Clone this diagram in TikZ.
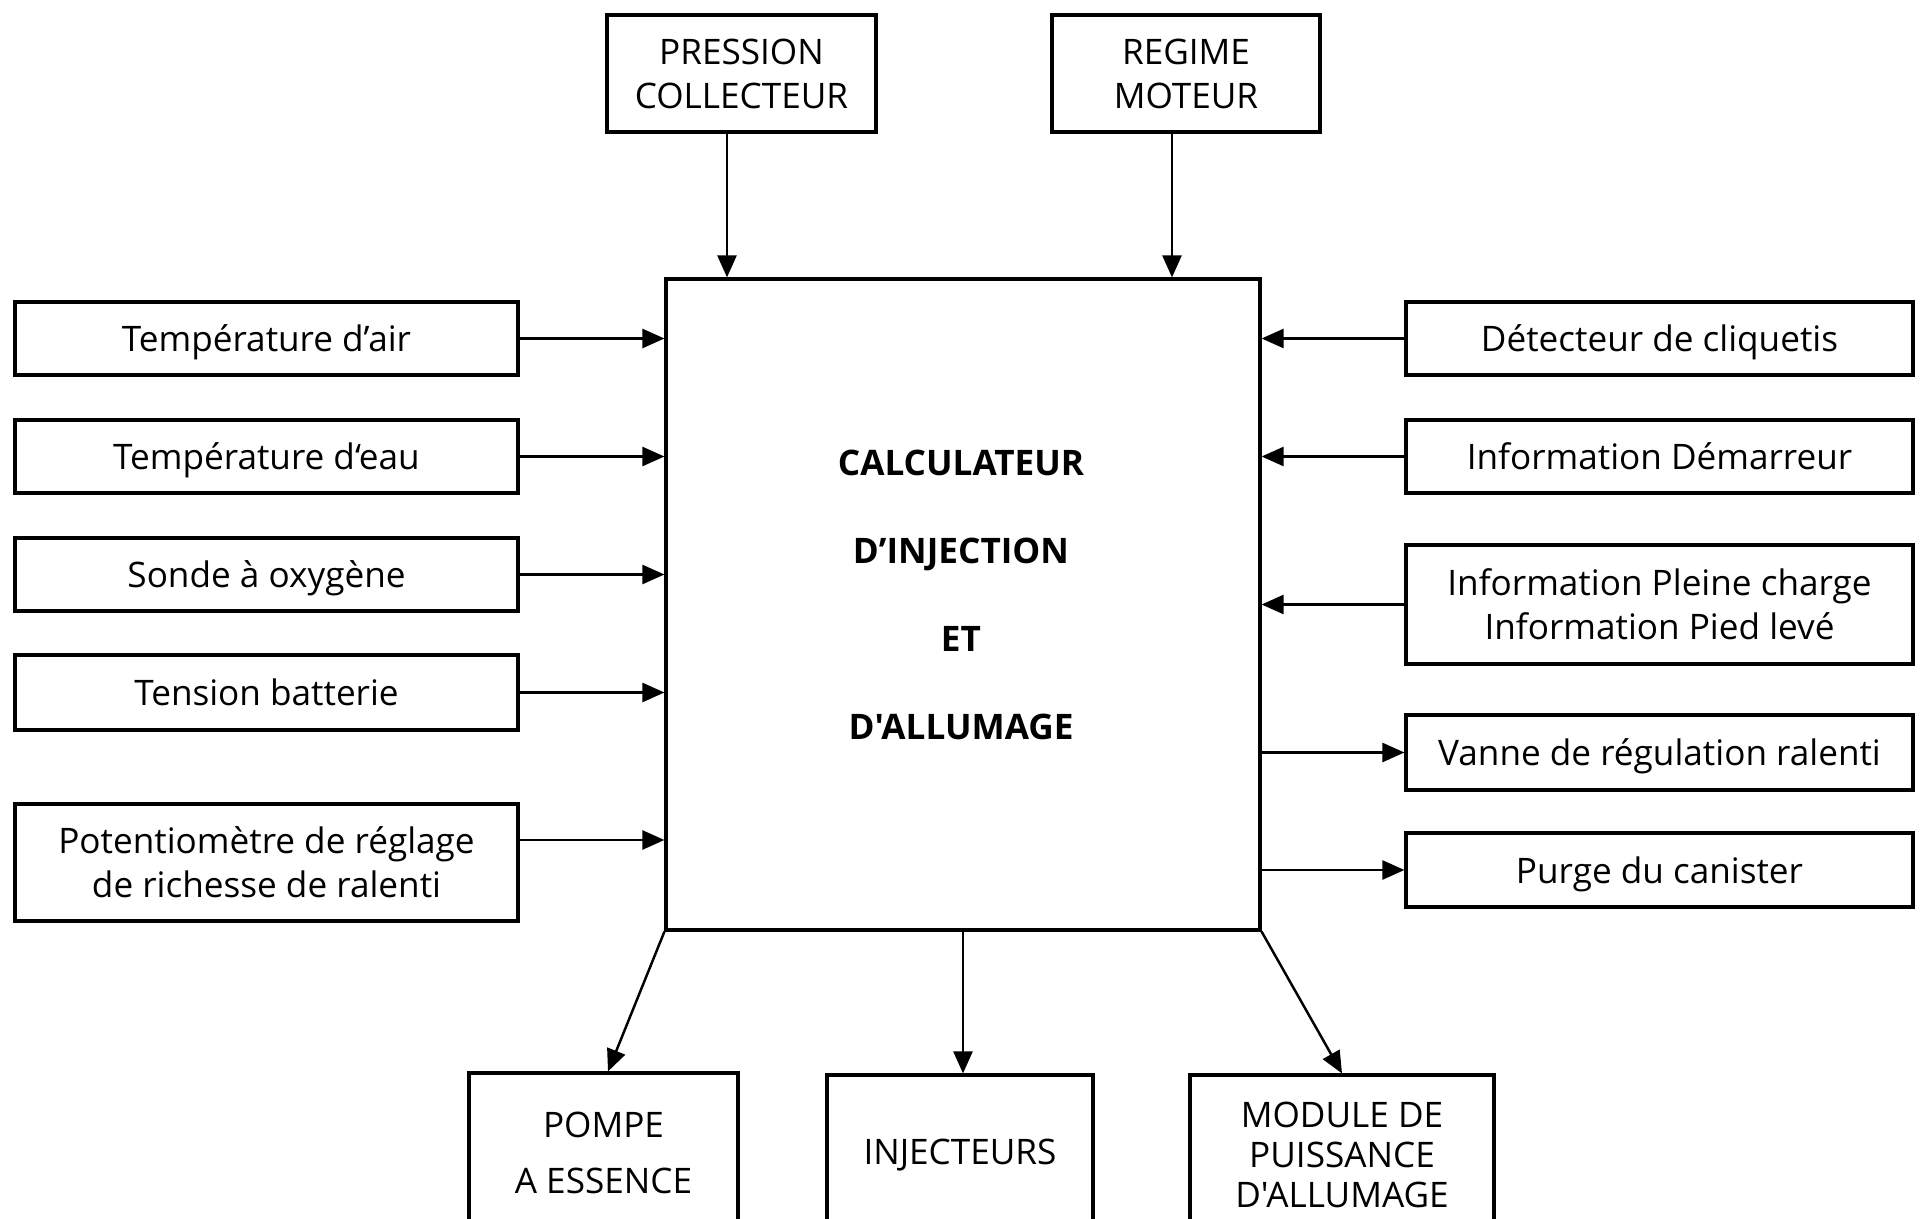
\documentclass[tikz,border=0pt]{standalone}
\usepackage{fontspec}
\newfontfamily\osans{Open Sans}
\usetikzlibrary{arrows.meta}
\begin{document}
\begin{tikzpicture}[x=1mm,y=1mm,
  box/.style={draw, line width=0.9pt, align=center, inner sep=0pt, font=\osans\fontsize{10}{12.5}\selectfont},
  onel/.style={text depth=0pt},
  arr/.style={line width=0.7pt, -{Triangle[length=2.2mm,width=1.9mm]}}]
\useasboundingbox (0,0) rectangle (192,-121.9);
\begin{scope}
\clip (0,0) rectangle (192,-121.9);
% top
\node[box, minimum width=26.9mm, minimum height=11.7mm] (press) at (74.15,-7.35) {PRESSION\\COLLECTEUR};
\node[box, minimum width=26.8mm, minimum height=11.7mm] (regime) at (118.6,-7.35) {REGIME\\MOTEUR};
% centre
\node[box, minimum width=59.4mm, minimum height=65.1mm] (calc) at (96.3,-60.45) {};
\node[font=\osans\bfseries\fontsize{10}{12}\selectfont, align=center] (calctxt) at (96.1,-59.5) {CALCULATEUR\\[13pt]D’INJECTION\\[13pt]ET\\[13pt]D'ALLUMAGE};
% left
\node[box, onel, minimum width=50.3mm, minimum height=7.3mm] (air) at (26.65,-33.85) {Température d’air};
\node[box, onel, minimum width=50.3mm, minimum height=7.3mm] (eau) at (26.65,-45.65) {Température d‘eau};
\node[box, onel, minimum width=50.3mm, minimum height=7.3mm] (sonde) at (26.65,-57.45) {Sonde à oxygène};
\node[box, onel, minimum width=50.3mm, minimum height=7.5mm] (tension) at (26.65,-69.25) {Tension batterie};
\node[box, minimum width=50.3mm, minimum height=11.7mm] (poten) at (26.65,-86.25) {Potentiomètre de réglage\\de richesse de ralenti};
% right
\node[box, onel, minimum width=50.7mm, minimum height=7.3mm] (det) at (165.95,-33.85) {Détecteur de cliquetis};
\node[box, onel, minimum width=50.7mm, minimum height=7.3mm] (dem) at (165.95,-45.65) {Information Démarreur};
\node[box, minimum width=50.7mm, minimum height=11.9mm] (pleine) at (165.95,-60.45) {Information Pleine charge\\Information Pied levé};
\node[box, onel, minimum width=50.7mm, minimum height=7.5mm] (vanne) at (165.95,-75.25) {Vanne de régulation ralenti};
\node[box, onel, minimum width=50.7mm, minimum height=7.4mm] (purge) at (165.95,-87.0) {Purge du canister};
% bottom
\node[box, minimum width=26.9mm, minimum height=16mm, font=\osans\fontsize{10}{16}\selectfont] (pompe) at (60.35,-115.3) {POMPE\\A ESSENCE};
\node[box, minimum width=26.6mm, minimum height=16mm] (inj) at (96.0,-115.5) {INJECTEURS};
\node[box, minimum width=30.4mm, minimum height=16mm, font=\osans\fontsize{10}{11.3}\selectfont] (module) at (134.2,-115.5) {MODULE DE\\PUISSANCE\\D'ALLUMAGE};
% arrows top
\draw[arr] ([xshift=-1.45mm]press.south) -- ([xshift=-1.45mm]press.south |- calc.north);
\draw[arr] ([xshift=-1.4mm]regime.south) -- ([xshift=-1.4mm]regime.south |- calc.north);
% arrows left
\draw[arr] (air.east) -- (air.east -| calc.west);
\draw[arr] (eau.east) -- (eau.east -| calc.west);
\draw[arr] (sonde.east) -- (sonde.east -| calc.west);
\draw[arr] (tension.east) -- (tension.east -| calc.west);
\draw[arr] ([yshift=2.25mm]poten.east) -- ([yshift=2.25mm]poten.east -| calc.west);
% arrows right
\draw[arr] (det.west) -- (det.west -| calc.east);
\draw[arr] (dem.west) -- (dem.west -| calc.east);
\draw[arr] (pleine.west) -- (pleine.west -| calc.east);
\draw[arr] (vanne.west -| calc.east) -- (vanne.west);
\draw[arr] (purge.west -| calc.east) -- (purge.west);
% arrows bottom
\draw[arr] (calc.south west) -- ([xshift=0.45mm]pompe.north);
\draw[arr] (calc.south) -- (calc.south |- inj.north);
\draw[arr] (calc.south east) -- (module.north);
\end{scope}
\end{tikzpicture}
\end{document}
